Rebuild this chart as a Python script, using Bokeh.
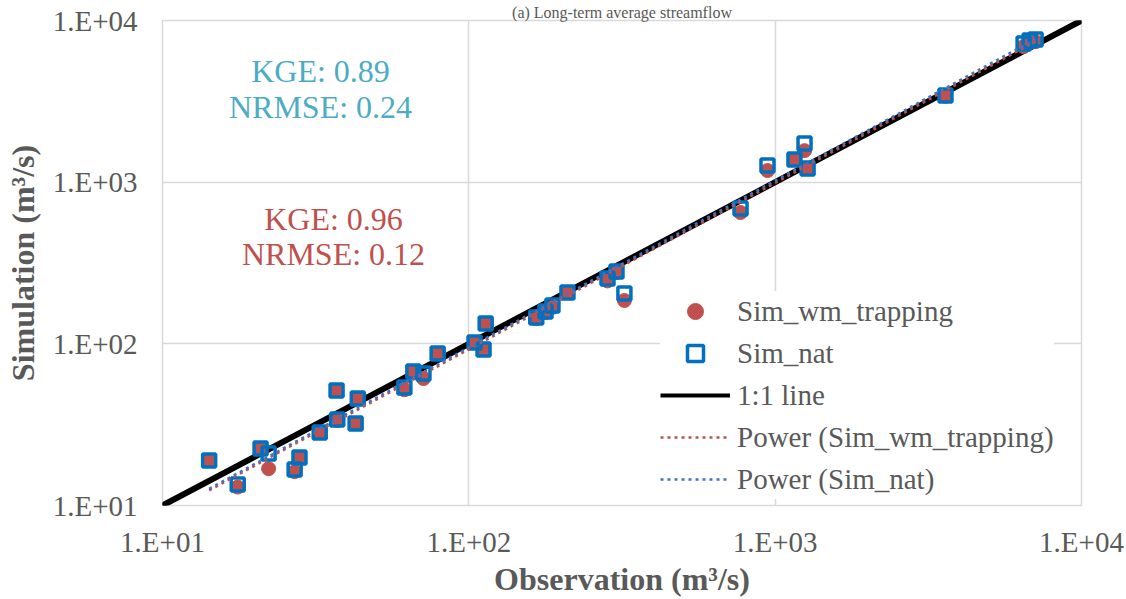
import numpy as np
from bokeh.plotting import figure
from bokeh.models import Range1d, FixedTicker, Label, Legend, LegendItem
from bokeh.embed import file_html
from bokeh.resources import INLINE

# ---------------- data ----------------
observation = [14.2, 17.6, 20.9, 22.2, 27.0, 28.0, 32.6, 37.0, 37.2, 43.4, 42.7, 61.6,
               65.9, 71.1, 79.1, 104.4, 113.5, 111.7, 166, 177.9, 187.5, 209.9, 283.6,
               303.4, 322, 770.8, 944, 1156, 1247, 1276, 3597, 6471, 6772, 7081]
sim_nat = [19.0, 13.5, 22.5, 21.0, 16.7, 19.8, 28.3, 51.4, 34.0, 45.9, 32.1, 53.7,
           67.4, 65.5, 87.1, 101.9, 133.6, 92.3, 145.5, 158.4, 172.5, 207.5, 253.6,
           279.9, 204.7, 687, 1268, 1380, 1734, 1214, 3436, 7194, 7516, 7622]
sim_wm_trapping = [19.0, 13.0, 22.5, 16.9, 16.2, 19.8, 28.3, 51.4, 33.5, 45.9, 32.1, 52.0,
                   67.4, 61.0, 87.1, 101.9, 133.6, 92.3, 143, 156, 168, 207.5, 245,
                   276, 185.4, 649, 1180, 1380, 1567, 1214, 3400, 6900, 7300, 7400]
one_to_one = [10, 10000]
ticks = [10, 100, 1000, 10000]
tick_labels = ["1.E+01", "1.E+02", "1.E+03", "1.E+04"]

title_text = "(a) Long-term average streamflow"
x_title = "Observation (m³/s)"
y_title = "Simulation (m³/s)"
stats_nat = ["KGE: 0.89", "NRMSE: 0.24"]
stats_wm = ["KGE: 0.96", "NRMSE: 0.12"]


# power trend lines (least-squares fit in log space, like a spreadsheet power trendline)
def power_fit(x, y):
    x = np.asarray(x, float)
    y = np.asarray(y, float)
    b, la = np.polyfit(np.log10(x), np.log10(y), 1)
    xs = np.array([x.min(), x.max()])
    return xs, (10 ** la) * xs ** b


tx_wm, ty_wm = power_fit(observation, sim_wm_trapping)
tx_nat, ty_nat = power_fit(observation, sim_nat)

# ---------------- figure ----------------
FONT = "Liberation Serif"
GREY = "#595959"
RED = "#C0504D"
BLUE = "#0070C0"
BLUE_T = "#4472C4"
TEAL = "#4BACC6"

p = figure(width=1126, height=599, x_axis_type="log", y_axis_type="log",
           x_range=Range1d(10, 10000), y_range=Range1d(10, 10000),
           output_backend="svg", toolbar_location=None,
           title=title_text, title_location="above",
           min_border_left=162, min_border_right=45, min_border_top=20, min_border_bottom=94)

p.title.align = "center"
p.title.offset = -51
p.title.standoff = 0
p.title.text_font = FONT
p.title.text_font_size = "16px"
p.title.text_font_style = "normal"
p.title.text_color = GREY

p.outline_line_color = "#D9D9D9"
p.outline_line_width = 1.5
p.background_fill_color = "white"
p.border_fill_color = "white"

for ax in (p.xaxis[0], p.yaxis[0]):
    ax.ticker = FixedTicker(ticks=ticks)
    ax.major_label_overrides = dict(zip(ticks, tick_labels))
    ax.axis_line_color = None
    ax.major_tick_line_color = None
    ax.minor_tick_line_color = None
    ax.major_tick_out = 0
    ax.major_tick_in = 0
    ax.minor_tick_out = 0
    ax.minor_tick_in = 0
    ax.major_label_text_font = FONT
    ax.major_label_text_font_size = "29px"
    ax.major_label_text_color = GREY
    ax.axis_label_text_font = FONT
    ax.axis_label_text_font_size = "32px"
    ax.axis_label_text_font_style = "bold"
    ax.axis_label_text_color = GREY

p.xaxis.axis_label = x_title
p.yaxis.axis_label = y_title
p.xaxis.major_label_standoff = 20
p.xaxis.axis_label_standoff = 0
p.yaxis.major_label_standoff = 25
p.yaxis.axis_label_standoff = 9

p.grid.grid_line_color = "#D9D9D9"
p.grid.grid_line_width = 1.5

# legend-only 1:1 line (thinner, hidden under the plotted one)
r_11_leg = p.line(one_to_one, one_to_one, line_color="black", line_width=4)
# 1:1 line
p.line(one_to_one, one_to_one, line_color="black", line_width=6)

# scatter series
r_wm = p.scatter(observation, sim_wm_trapping, marker="circle", size=14,
                 fill_color=RED, line_color=RED, line_width=1)
r_nat = p.scatter(observation, sim_nat, marker="square", size=13,
                  fill_color=None, line_color=BLUE, line_width=3.5)

# trend lines
r_tw = p.line(tx_wm, ty_wm, line_color=RED, line_width=2.5, line_dash="3 4")
r_tn = p.line(tx_nat, ty_nat, line_color=BLUE_T, line_width=2.5, line_dash="3 4")

legend = Legend(items=[
    LegendItem(label="Sim_wm_trapping", renderers=[r_wm]),
    LegendItem(label="Sim_nat", renderers=[r_nat]),
    LegendItem(label="1:1 line", renderers=[r_11_leg]),
    LegendItem(label="Power (Sim_wm_trapping)", renderers=[r_tw]),
    LegendItem(label="Power (Sim_nat)", renderers=[r_tn]),
], location=(498, 6))
legend.glyph_width = 70
legend.glyph_height = 40
legend.label_height = 40
legend.label_standoff = 7
legend.spacing = 2
legend.padding = 4
legend.margin = 0
legend.border_line_color = None
legend.background_fill_color = "white"
legend.background_fill_alpha = 1.0
legend.label_text_font = FONT
legend.label_text_font_size = "29px"
legend.label_text_color = GREY
p.add_layout(legend)

# statistics annotations (frame-relative screen units)
for i, t in enumerate(stats_nat):
    p.add_layout(Label(x=158, y=435 - 36 * i, x_units="screen", y_units="screen", text=t,
                       text_align="center", text_baseline="middle", text_font=FONT,
                       text_font_size="32px", text_color=TEAL))
for i, t in enumerate(stats_wm):
    p.add_layout(Label(x=171, y=287 - 35 * i, x_units="screen", y_units="screen", text=t,
                       text_align="center", text_baseline="middle", text_font=FONT,
                       text_font_size="32px", text_color=RED))

open("out.html", "w").write(file_html(p, INLINE))
